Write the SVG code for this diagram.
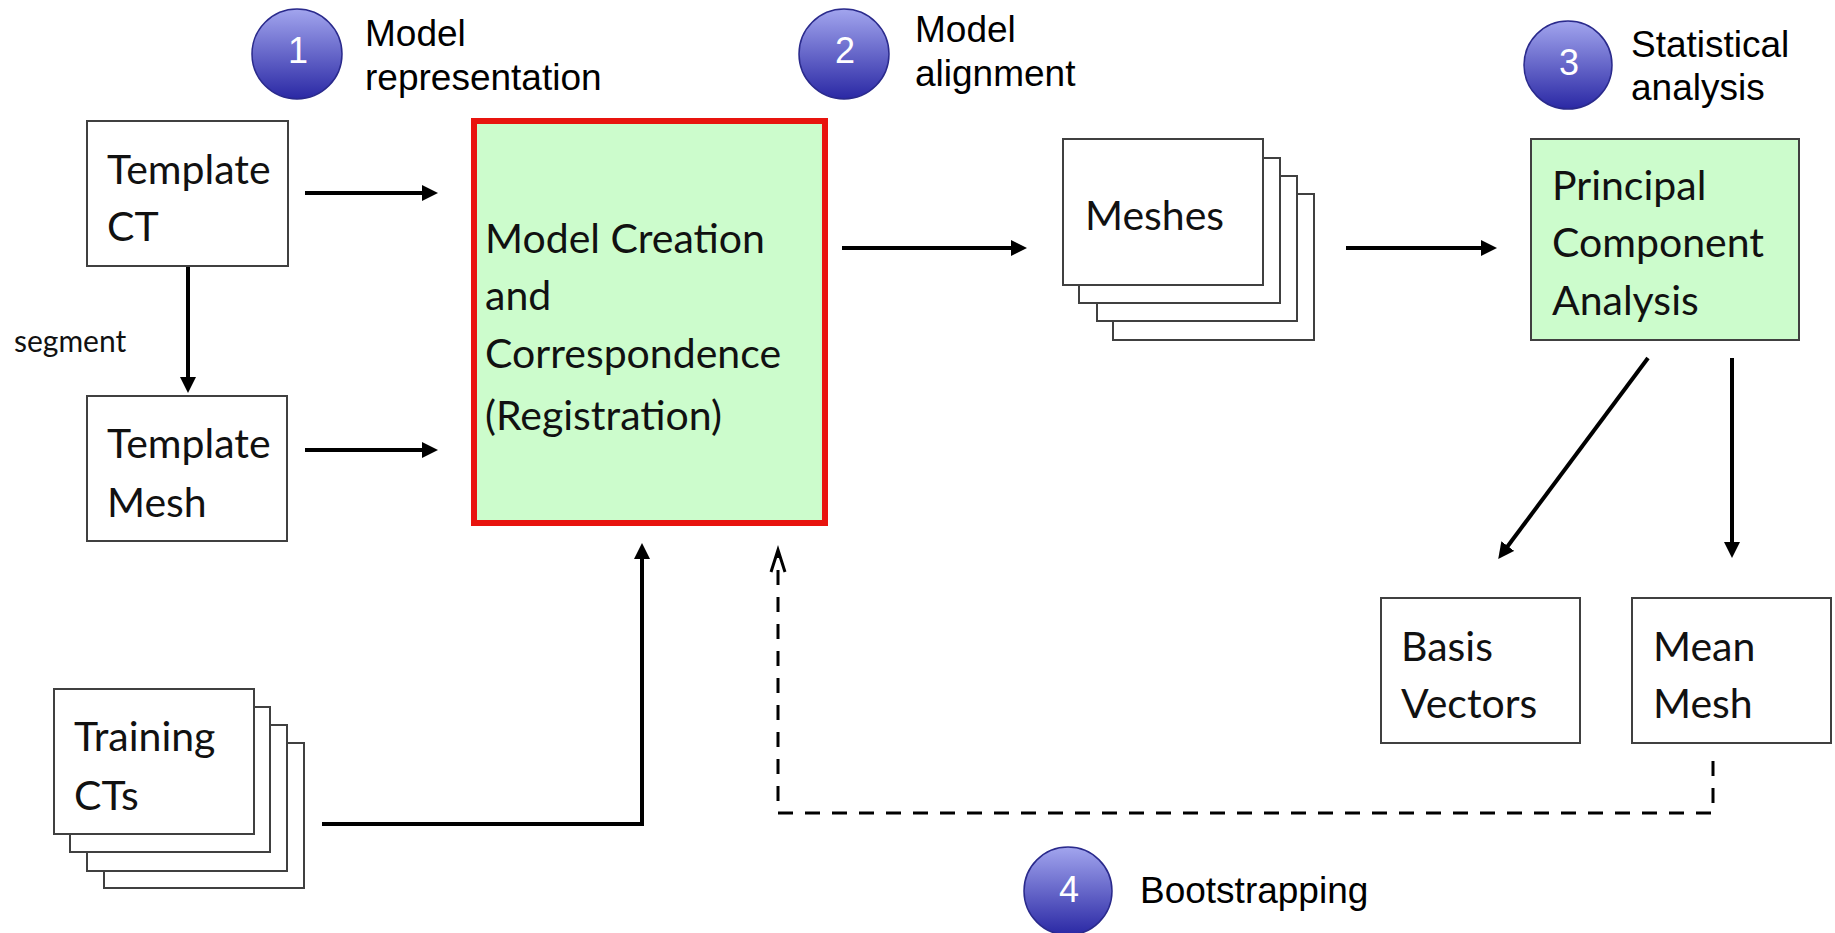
<svg xmlns="http://www.w3.org/2000/svg" width="1835" height="933" viewBox="0 0 1835 933">
  <style>
    .box { fill: #ffffff; stroke: #404040; stroke-width: 2; }
    .green { fill: #ccfccc; stroke: #404040; stroke-width: 2; }
    .focus { fill: #ccfccc; stroke: #e8140e; stroke-width: 6; }
    .btxt { font-family: Lato, "Open Sans", sans-serif; font-size: 41px; fill: #111111; }
    .small { font-family: Lato, "Open Sans", sans-serif; font-size: 30px; fill: #111111; }
    .lbl { font-family: "Liberation Sans", Arial, sans-serif; font-size: 37px; fill: #000000; }
    .num { font-family: "Liberation Sans", Arial, sans-serif; font-size: 36px; fill: #ffffff; text-anchor: middle; }
    .badge { fill: url(#badgeGrad); stroke: #2a2a8c; stroke-width: 1.5; }
    .arrow { fill: none; stroke: #000000; stroke-width: 4; marker-end: url(#head); }
    .dash { fill: none; stroke: #000000; stroke-width: 3; stroke-dasharray: 15 12; }
  </style>
  <defs>
    <linearGradient id="badgeGrad" x1="0" y1="0" x2="0" y2="1">
      <stop offset="0" stop-color="#a2a5ee"/>
      <stop offset="1" stop-color="#2a28a4"/>
    </linearGradient>
    <marker id="head" viewBox="0 0 16 16" refX="8" refY="8" markerWidth="16" markerHeight="16" markerUnits="userSpaceOnUse" orient="auto">
      <path d="M0,0 L16,8 L0,16 z" fill="#000000"/>
    </marker>
  </defs>

  <!-- step badges -->
  <g id="step1">
    <circle class="badge" cx="297" cy="54" r="45"/>
    <text class="num" x="298" y="63">1</text>
    <text class="lbl" x="365" y="46">Model</text>
    <text class="lbl" x="365" y="90">representation</text>
  </g>
  <g id="step2">
    <circle class="badge" cx="844" cy="54" r="45"/>
    <text class="num" x="845" y="63">2</text>
    <text class="lbl" x="915" y="42">Model</text>
    <text class="lbl" x="915" y="86">alignment</text>
  </g>
  <g id="step3">
    <circle class="badge" cx="1568" cy="65" r="44"/>
    <text class="num" x="1569" y="75">3</text>
    <text class="lbl" x="1631" y="57">Statistical</text>
    <text class="lbl" x="1631" y="100">analysis</text>
  </g>
  <g id="step4">
    <circle class="badge" cx="1068" cy="891" r="44"/>
    <text class="num" x="1069" y="902">4</text>
    <text class="lbl" x="1140" y="903">Bootstrapping</text>
  </g>

  <!-- nodes -->
  <g id="template-ct">
    <rect class="box" x="87" y="121" width="201" height="145"/>
    <text class="btxt" x="107" y="184">Template</text>
    <text class="btxt" x="107" y="241">CT</text>
  </g>
  <g id="template-mesh">
    <rect class="box" x="87" y="396" width="200" height="145"/>
    <text class="btxt" x="107" y="458">Template</text>
    <text class="btxt" x="107" y="517">Mesh</text>
  </g>
  <g id="training-cts">
    <rect class="box" x="104" y="743" width="200" height="145"/>
    <rect class="box" x="87" y="725" width="200" height="146"/>
    <rect class="box" x="70" y="707" width="200" height="145"/>
    <rect class="box" x="54" y="689" width="200" height="145"/>
    <text class="btxt" x="74" y="751">Training</text>
    <text class="btxt" x="74" y="810">CTs</text>
  </g>
  <g id="model-creation">
    <rect class="focus" x="474" y="121" width="351" height="402"/>
    <text class="btxt" x="485" y="253">Model Creation</text>
    <text class="btxt" x="485" y="310">and</text>
    <text class="btxt" x="485" y="368">Correspondence</text>
    <text class="btxt" x="485" y="430">(Registration)</text>
  </g>
  <g id="meshes">
    <rect class="box" x="1113" y="194" width="201" height="146"/>
    <rect class="box" x="1097" y="176" width="200" height="145"/>
    <rect class="box" x="1079" y="158" width="201" height="145"/>
    <rect class="box" x="1063" y="139" width="200" height="146"/>
    <text class="btxt" x="1085" y="230">Meshes</text>
  </g>
  <g id="pca">
    <rect class="green" x="1531" y="139" width="268" height="201"/>
    <text class="btxt" x="1552" y="200">Principal</text>
    <text class="btxt" x="1552" y="257">Component</text>
    <text class="btxt" x="1552" y="315">Analysis</text>
  </g>
  <g id="basis-vectors">
    <rect class="box" x="1381" y="598" width="199" height="145"/>
    <text class="btxt" x="1401" y="661">Basis</text>
    <text class="btxt" x="1401" y="718">Vectors</text>
  </g>
  <g id="mean-mesh">
    <rect class="box" x="1632" y="598" width="199" height="145"/>
    <text class="btxt" x="1653" y="661">Mean</text>
    <text class="btxt" x="1653" y="718">Mesh</text>
  </g>

  <!-- connectors -->
  <g id="connectors">
    <path class="arrow" d="M305,193 H430"/>
    <path class="arrow" d="M305,450 H430"/>
    <path class="arrow" d="M188,267 V385"/>
    <path class="arrow" d="M322,824 H642 V551"/>
    <path class="arrow" d="M842,248 H1019"/>
    <path class="arrow" d="M1346,248 H1489"/>
    <path class="arrow" d="M1648,358 L1503,552.5"/>
    <path class="arrow" d="M1732,358 V550"/>
    <path class="dash" d="M1713,761 V813 H778 V553"/>
    <path d="M771,572 L778,550 L785,572" fill="none" stroke="#000000" stroke-width="3"/>
    <text class="small" x="14" y="352">segment</text>
  </g>
</svg>
